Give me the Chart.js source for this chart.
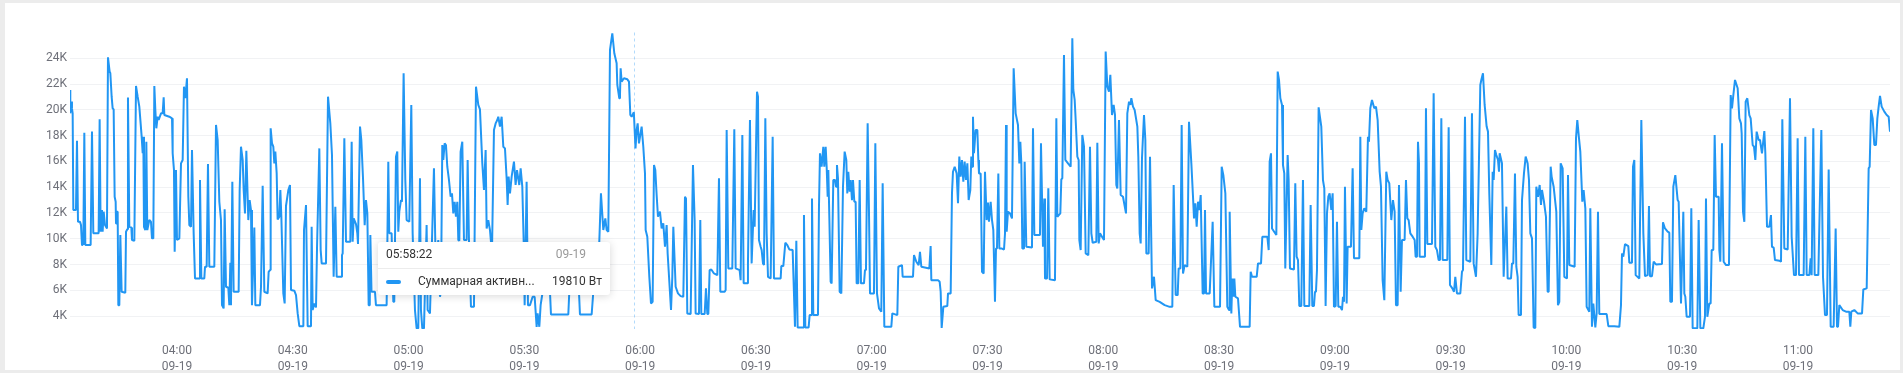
<!DOCTYPE html>
<html>
<head>
<meta charset="utf-8">
<script src="https://cdn.jsdelivr.net/npm/chart.js@4.4.1/dist/chart.umd.min.js"></script>
<style>
  html, body { margin: 0; padding: 0; background: #ececec; overflow: hidden; }
  .card { position: absolute; left: 5px; top: 3px; width: 1895px; height: 367px; background: #fff; }
  #power-chart { position: absolute; left: 0; top: 0; }
</style>
</head>
<body>
<div class="card"></div>
<canvas id="power-chart" width="1903" height="373"></canvas>
<script>
// Sample times, in minutes after 03:30 (09-19)
const times = [
  2.28, 2.36, 2.54, 2.79, 2.97, 3.14, 3.83, 4.09, 4.35, 4.87,
  5.13, 5.39, 5.56, 5.73, 5.99, 6.25, 7.63, 7.98, 8.32, 9.70,
  9.96, 10.22, 10.57, 10.74, 11.0, 11.35, 11.86, 12.12, 12.55, 12.73,
  13.07, 13.33, 13.59, 13.85, 14.11, 14.2, 14.37, 14.63, 14.8, 15.06,
  15.32, 15.66, 16.61, 16.79, 17.13, 17.3, 17.65, 18.17, 18.34, 18.95,
  19.38, 19.81, 20.24, 20.85, 21.11, 21.28, 21.45, 21.8, 22.06, 22.31,
  22.83, 23.26, 23.52, 23.87, 24.13, 24.39, 24.65, 24.99, 25.25, 25.86,
  26.29, 26.55, 26.72, 28.01, 28.71, 28.88, 29.22, 29.4, 29.74, 30.0,
  30.61, 31.04, 31.47, 31.81, 32.16, 32.59, 32.94, 33.2, 33.63, 33.89,
  34.32, 34.67, 35.79, 35.96, 36.31, 37.08, 37.26, 37.69, 38.03, 38.38,
  39.67, 40.11, 40.54, 40.97, 41.4, 41.66, 42.09, 42.35, 42.7, 43.3,
  43.56, 43.82, 43.99, 44.34, 44.68, 45.98, 46.24, 46.58, 47.02, 47.28,
  47.62, 47.97, 48.48, 48.83, 49.18, 49.43, 50.04, 50.3, 51.51, 51.77,
  52.2, 52.63, 53.49, 53.75, 54.1, 54.27, 54.62, 54.96, 55.22, 55.48,
  55.83, 56.08, 56.52, 56.78, 57.04, 57.55, 57.9, 58.24, 58.85, 59.28,
  59.54, 60.4, 60.84, 61.27, 61.7, 62.74, 62.91, 63.43, 63.86, 64.72,
  64.89, 65.15, 65.59, 66.02, 66.28, 66.88, 67.23, 67.49, 68.61, 69.13,
  69.73, 70.16, 70.59, 71.03, 71.37, 72.5, 72.75, 72.93, 73.36, 73.79,
  74.91, 75.26, 75.52, 75.78, 76.38, 76.73, 76.9, 77.42, 77.76, 78.2,
  78.63, 78.97, 79.32, 79.66, 79.95, 80.1, 80.4, 81.3, 81.55, 84.32,
  84.75, 85.0, 85.61, 86.05, 86.3, 86.74, 87.08, 87.34, 87.6, 88.03,
  88.29, 88.72, 89.16, 89.5, 90.19, 90.71, 91.06, 91.66, 92.09, 92.52,
  92.96, 93.21, 93.56, 93.99, 94.25, 94.68, 94.94, 95.55, 95.98, 96.58,
  97.01, 97.71, 98.14, 98.4, 98.74, 99.0, 99.35, 99.69, 100.04, 100.47,
  100.9, 101.25, 101.59, 101.94, 102.28, 102.63, 102.89, 103.15, 103.49, 103.92,
  104.36, 105.05, 105.31, 105.65, 106.17, 106.95, 107.47, 108.07, 108.5, 109.11,
  109.54, 109.97, 110.23, 110.66, 111.09, 111.61, 112.13, 112.56, 112.99, 113.25,
  113.68, 114.12, 114.55, 114.98, 115.41, 115.67, 115.93, 116.28, 116.71, 117.31,
  117.74, 118.09, 118.35, 118.69, 119.04, 119.47, 119.82, 120.08, 120.59, 120.94,
  121.46, 122.15, 122.67, 123.19, 123.44, 123.88, 124.22, 124.74, 126.64, 126.9,
  131.39, 131.65, 134.15, 134.41, 137.44, 137.87, 138.04, 139.42, 139.85, 140.46,
  140.98, 141.32, 141.76, 142.19, 142.79, 143.31, 143.91, 144.09, 144.6, 144.78,
  144.95, 145.21, 145.81, 146.68, 147.11, 147.46, 147.8, 148.37, 148.8, 149.1,
  149.36, 149.7, 150.39, 150.82, 151.26, 151.43, 151.86, 152.38, 152.81, 153.24,
  153.59, 153.93, 154.28, 154.62, 155.14, 155.57, 156.0, 156.44, 156.87, 157.13,
  158.0, 158.34, 158.6, 159.2, 159.81, 160.5, 161.19, 161.62, 161.88, 162.22,
  163.09, 163.69, 164.12, 164.38, 165.25, 165.59, 165.85, 166.72, 167.06, 167.41,
  167.67, 168.01, 168.44, 169.13, 170.0, 170.43, 170.78, 171.9, 172.16, 172.42,
  172.85, 173.88, 174.4, 174.75, 175.78, 176.04, 176.48, 176.82, 177.77, 177.94,
  178.46, 178.89, 179.41, 179.67, 180.28, 180.54, 180.79, 181.23, 181.49, 181.83,
  182.09, 182.44, 182.78, 183.13, 183.82, 184.34, 184.68, 186.41, 186.58, 187.1,
  187.62, 188.14, 188.65, 189.52, 190.12, 190.47, 190.81, 192.2, 192.45, 192.8,
  193.66, 193.92, 194.35, 194.53, 194.87, 196.08, 196.34, 196.6, 197.03, 197.46,
  197.72, 198.07, 198.33, 198.59, 198.76, 199.02, 199.36, 199.62, 200.05, 200.49,
  200.75, 201.0, 201.26, 201.7, 202.13, 202.56, 202.99, 203.42, 203.68, 203.94,
  204.29, 204.55, 204.89, 205.15, 205.5, 205.84, 206.1, 206.53, 206.88, 207.22,
  208.0, 208.26, 208.52, 208.95, 209.3, 209.56, 210.59, 210.94, 211.37, 211.89,
  212.49, 212.84, 213.27, 215.08, 215.34, 216.64, 216.9, 217.85, 218.02, 220.7,
  220.96, 221.56, 222.17, 222.51, 222.86, 224.93, 225.27, 225.45, 227.18, 227.61,
  227.87, 228.13, 228.56, 229.59, 229.77, 230.46, 230.8, 231.06, 231.5, 232.01,
  232.36, 232.7, 233.05, 233.39, 233.74, 234.08, 234.43, 234.78, 235.12, 235.55,
  235.81, 236.07, 236.24, 236.5, 236.93, 237.37, 237.63, 237.8, 238.23, 238.4,
  238.58, 239.01, 239.35, 239.79, 240.13, 240.39, 240.82, 241.17, 241.51, 241.94,
  242.2, 242.46, 242.81, 243.07, 243.59, 244.28, 244.54, 244.8, 244.97, 245.31,
  245.83, 246.35, 246.78, 247.3, 247.9, 248.25, 248.51, 248.77, 249.03, 249.46,
  249.63, 250.06, 251.53, 251.79, 252.14, 253.6, 253.86, 254.38, 254.73, 254.9,
  255.42, 255.76, 256.11, 257.49, 257.84, 258.1, 258.87, 259.13, 259.39, 259.82,
  260.17, 260.86, 261.55, 261.98, 262.24, 262.59, 262.85, 263.28, 263.62, 263.8,
  264.14, 264.57, 265.01, 265.44, 266.13, 266.56, 266.91, 267.25, 268.2, 268.46,
  268.81, 269.15, 269.67, 270.19, 270.62, 271.05, 271.48, 271.83, 272.26, 272.69,
  273.04, 273.38, 273.64, 274.07, 274.51, 275.11, 275.89, 276.23, 276.67, 277.01,
  277.27, 277.7, 278.13, 278.83, 279.08, 279.43, 279.69, 280.03, 280.55, 280.9,
  281.16, 281.76, 282.11, 282.63, 283.14, 283.58, 284.61, 285.91, 287.2, 287.89,
  288.24, 288.76, 289.28, 289.53, 289.97, 290.31, 290.66, 291.09, 291.78, 292.21,
  292.82, 293.25, 293.51, 293.85, 294.2, 294.55, 294.89, 295.24, 295.75, 296.1,
  296.36, 296.62, 297.57, 298.34, 298.78, 300.25, 300.68, 301.11, 301.63, 302.14,
  302.58, 302.75, 303.18, 303.44, 303.7, 303.96, 304.22, 304.91, 305.43, 307.93,
  308.19, 308.54, 309.75, 310.09, 310.87, 311.21, 312.51, 312.86, 313.11, 313.46,
  313.72, 314.84, 315.19, 315.53, 315.88, 316.31, 316.56, 316.9, 317.16, 317.77,
  318.03, 318.37, 319.41, 319.75, 320.1, 320.45, 320.79, 321.31, 321.74, 322.09,
  323.38, 323.73, 324.16, 324.59, 324.85, 325.11, 325.37, 325.8, 326.49, 326.92,
  327.27, 327.61, 327.96, 328.31, 328.65, 329.08, 329.43, 329.77, 330.21, 330.55,
  330.9, 331.41, 331.85, 332.11, 332.37, 332.62, 333.06, 333.31, 334.18, 334.61,
  334.96, 336.34, 336.6, 336.86, 337.2, 337.63, 338.15, 338.58, 338.84, 339.19,
  339.62, 340.22, 340.66, 341.09, 341.61, 341.95, 342.38, 342.82, 343.33, 343.68,
  344.11, 344.63, 345.06, 345.49, 345.84, 346.27, 346.62, 347.05, 347.39, 348.08,
  348.43, 348.78, 349.12, 349.55, 350.16, 350.68, 350.93, 351.28, 351.54, 351.8,
  351.97, 353.35, 353.61, 353.96, 355.17, 355.6, 356.03, 356.46, 356.89, 357.24,
  357.59, 357.93, 359.14, 359.49, 359.83, 360.44, 360.87, 361.21, 361.64, 362.51,
  362.94, 363.2, 363.72, 364.06, 365.1, 365.53, 365.96, 366.57, 367.0, 367.69,
  367.95, 368.38, 368.81, 369.33, 369.68, 370.02, 370.54, 370.89, 371.15, 371.49,
  371.84, 372.27, 372.53, 372.7, 373.3, 373.74, 374.43, 374.77, 375.64, 375.9,
  376.24, 376.67, 377.02, 377.36, 377.62, 378.23, 378.49, 379.0, 379.44, 379.95,
  380.3, 380.65, 381.08, 381.51, 381.94, 382.2, 382.63, 383.07, 383.41, 383.67,
  384.19, 384.7, 385.14, 385.4, 385.92, 386.17, 386.69, 387.38, 387.81, 388.16,
  388.51, 389.02, 389.46, 390.15, 390.41, 390.75, 392.13, 392.48, 392.82, 393.26,
  393.6, 394.12, 394.46, 394.9, 395.24, 395.93, 396.19, 396.62, 396.97, 397.49,
  397.83, 398.18, 398.52, 400.43, 400.86, 402.41, 403.71, 404.14, 404.4, 404.74,
  405.18, 406.04, 406.3, 406.99, 407.25, 407.59, 407.94, 408.89, 409.41, 409.93,
  410.36, 411.05, 411.39, 411.65, 412.17, 412.6, 413.21, 414.76, 415.02, 415.54,
  416.23, 416.66, 416.92, 417.35, 417.7, 418.22, 418.82, 419.08, 419.69, 420.29,
  420.55, 420.81, 421.15, 422.02, 422.36, 422.71, 423.92, 424.26, 424.7, 425.47,
  425.9, 426.16, 426.51, 427.03, 427.37, 427.63, 428.06, 428.41, 428.75, 429.45,
  429.62, 429.88, 430.31, 430.74, 431.35, 432.12, 432.56, 432.9, 433.25, 433.68,
  434.37, 434.8, 435.23, 435.41, 435.75, 436.1, 436.44, 436.87, 437.39, 437.74,
  438.26, 438.6, 438.95, 439.29, 439.81, 440.16, 440.67, 441.28, 441.54, 441.97,
  442.57, 443.0, 443.26, 443.7, 444.04, 445.17, 445.6, 445.94, 446.46, 447.33,
  447.93, 448.36, 448.96, 449.48, 449.91, 450.26, 451.47, 451.9, 452.25, 452.94,
  453.28, 453.54, 453.97, 454.32, 455.27, 456.05, 456.48, 457.0, 457.51, 457.95,
  458.47, 459.24, 459.76, 460.11, 460.37, 460.71, 461.58, 462.44, 463.3, 463.56,
  463.82, 464.6, 465.46, 466.59, 466.93, 467.8, 468.31, 468.57, 468.92, 469.35,
  469.78, 470.21, 470.56, 470.9, 471.25, 471.68, 472.37, 472.98, 473.49, 473.84
];

// Total active power, W
const watts = [
  21540, 19730, 20640, 20120, 19730, 12230, 12230, 17610, 11320, 11320,
  11060, 9510, 10160, 9510, 18230, 9510, 9510, 18310, 10420, 10420,
  19270, 10550, 12230, 10550, 12100, 11060, 10800, 24080, 22970, 22840,
  21020, 20120, 20040, 13260, 12870, 11190, 12100, 12100, 4850, 4850,
  10290, 5890, 5810, 10550, 10730, 20950, 10930, 10880, 9900, 9850,
  21850, 21020, 20250, 17920, 16630, 17920, 10930, 10680, 17530, 10680,
  11450, 11320, 10030, 10030, 21850, 19990, 18570, 19470, 19210, 19730,
  19730, 20970, 19600, 19470, 19340, 16630, 15330, 8990, 15330, 9900,
  10030, 15850, 16110, 21800, 20900, 22450, 13260, 11060, 10930, 16880,
  10420, 6920, 6920, 14560, 6920, 6920, 7830, 7830, 15800, 7830,
  7830, 18830, 17660, 12870, 11450, 4850, 4600, 12280, 6280, 6200,
  4850, 8140, 4850, 14430, 5890, 5890, 13780, 17140, 16110, 13780,
  11970, 16830, 11450, 13000, 12230, 4850, 10880, 4850, 4850, 6280,
  14120, 5890, 5760, 7440, 7570, 18570, 17400, 17140, 15850, 16760,
  15070, 11500, 11710, 13780, 11710, 5760, 4980, 12540, 13780, 14170,
  6020, 5970, 5630, 4210, 3220, 3220, 10680, 12620, 3220, 3220,
  10930, 4470, 4980, 4670, 9250, 17010, 9120, 8090, 8090, 21020,
  18950, 16500, 7050, 12490, 7050, 7050, 8730, 8860, 17790, 9770,
  9770, 17530, 9770, 11580, 11140, 10420, 9590, 18700, 17660, 14690,
  11060, 13000, 11970, 4850, 4850, 10290, 5890, 5890, 4850, 4850,
  15980, 10420, 10420, 5110, 5110, 16370, 16760, 10550, 12100, 13000,
  12870, 22840, 14560, 11450, 11320, 20380, 10420, 4470, 3050, 3050,
  14690, 4470, 3050, 3050, 6020, 11060, 4470, 4210, 8860, 15460,
  8350, 9900, 5500, 5890, 17270, 16110, 17400, 17270, 15590, 14560,
  13260, 13520, 11970, 12870, 11710, 12870, 9900, 9850, 16760, 17530,
  9900, 9900, 16110, 9900, 4720, 4720, 21800, 20380, 20040, 15850,
  13780, 16880, 10800, 11450, 10680, 8860, 18440, 18950, 19210, 19470,
  18700, 19470, 17140, 17010, 14690, 12620, 14820, 13520, 14820, 15980,
  14170, 15330, 14820, 14170, 15460, 14040, 9900, 4850, 14430, 4850,
  4850, 5500, 5500, 3170, 4210, 3170, 4850, 5890, 5890, 4130,
  4130, 5890, 5890, 4130, 4130, 5890, 7310, 9770, 13520, 10680,
  11580, 10680, 10550, 24650, 25940, 24390, 23610, 21930, 20900, 21150,
  23220, 22190, 22450, 22370, 22190, 19600, 19470, 19810, 17010, 18440,
  18950, 17400, 18700, 17140, 15070, 10680, 10160, 7050, 4980, 5110,
  15720, 15330, 13390, 11710, 12100, 10800, 11190, 9380, 11060, 8860,
  4470, 7050, 10930, 6280, 5760, 5550, 5500, 13260, 13130, 4210,
  4160, 15720, 11450, 4210, 4160, 11450, 4160, 4160, 6150, 4160,
  4160, 7570, 7620, 7310, 7180, 14690, 5890, 5890, 6020, 18440,
  7700, 7700, 18490, 7700, 7570, 6790, 18050, 6540, 6540, 8090,
  19210, 8090, 12230, 10930, 21410, 21020, 9900, 9380, 9120, 8090,
  7960, 19340, 10420, 7050, 6920, 17920, 6920, 6920, 7880, 7880,
  9690, 9510, 9170, 9120, 3170, 9850, 3120, 3120, 11840, 3120,
  3120, 4080, 4080, 13130, 4080, 4080, 12490, 16630, 15590, 17140,
  15590, 17140, 15590, 13260, 15330, 11710, 6660, 6540, 14560, 14560,
  14040, 15720, 14690, 5890, 5760, 14040, 16760, 16110, 13520, 15200,
  13650, 14560, 13000, 14560, 12870, 12870, 6540, 6540, 14560, 6540,
  6540, 7570, 7570, 18950, 11970, 5760, 5760, 17400, 5760, 4600,
  4340, 14300, 3170, 3170, 4210, 4080, 7830, 7960, 7050, 7050,
  8730, 8220, 7960, 8990, 7830, 7700, 9430, 6790, 6790, 6660,
  5890, 3080, 4720, 4780, 5760, 5760, 13520, 15200, 15590, 15070,
  12750, 16370, 14820, 16110, 14430, 15980, 14560, 15850, 13000, 13780,
  16370, 15590, 19470, 16630, 18440, 18440, 16110, 15070, 15070, 11450,
  7440, 7310, 15200, 11450, 12800, 11320, 12870, 11450, 10680, 5110,
  9250, 9250, 15070, 9250, 9250, 9170, 10420, 18830, 10550, 12100,
  11970, 11580, 23220, 19730, 18830, 15850, 17530, 15850, 9250, 9250,
  15980, 9380, 9330, 18570, 10290, 10290, 17400, 9380, 13130, 6920,
  6920, 13910, 6850, 6790, 19340, 11710, 11970, 14610, 14690, 24260,
  16110, 15850, 15590, 25550, 21540, 20770, 19210, 16370, 16110, 9900,
  9120, 18050, 17140, 8860, 8730, 17140, 10420, 9690, 9770, 17450,
  9640, 10420, 10160, 9900, 24520, 21800, 21410, 22710, 19600, 20380,
  19600, 14170, 13910, 19210, 13390, 13260, 11970, 19730, 20640, 20380,
  20900, 20250, 19990, 18700, 16370, 10420, 9640, 16240, 19600, 17660,
  8860, 8860, 16370, 6150, 7050, 5240, 5110, 4850, 4720, 4720,
  14170, 5630, 5630, 7700, 7700, 18830, 7310, 7960, 7830, 19080,
  15850, 13260, 11580, 12750, 10930, 12870, 12230, 13390, 5760, 5760,
  12230, 5760, 5760, 11320, 4720, 4720, 15590, 14940, 13520, 4720,
  4470, 12100, 4210, 6920, 5500, 6920, 5500, 5370, 3170, 3170,
  7440, 7050, 7050, 8090, 8090, 10160, 10160, 9120, 15980, 16630,
  10800, 10290, 22970, 22320, 20900, 20380, 15720, 15070, 7700, 16500,
  14560, 7700, 7620, 14300, 8610, 8350, 4780, 4780, 14560, 4780,
  4780, 12620, 4780, 4780, 5890, 5890, 7570, 20200, 18700, 14560,
  13910, 4780, 11970, 13260, 13520, 12230, 13520, 4720, 4780, 11320,
  4720, 4720, 4470, 5500, 5110, 14040, 4980, 9380, 9380, 15460,
  8480, 8480, 17920, 10680, 11970, 12360, 12100, 17920, 17530, 20120,
  20770, 20120, 20250, 19210, 15200, 14040, 6790, 5240, 15200, 14560,
  14300, 11450, 13000, 12100, 4850, 4850, 14170, 5890, 9900, 9900,
  14560, 11580, 11450, 10420, 10160, 9900, 8610, 8610, 17530, 15850,
  8610, 8610, 20120, 9590, 9590, 21280, 9380, 9120, 8350, 8350,
  19340, 8350, 8350, 18640, 6410, 6150, 5890, 7050, 5760, 5760,
  7440, 7570, 19470, 8350, 8220, 19730, 8090, 7050, 10420, 21930,
  22320, 22840, 20380, 18700, 18310, 13520, 7960, 15200, 14560, 16880,
  16500, 16110, 15200, 16630, 15850, 7050, 12490, 6920, 6920, 8090,
  8090, 15070, 7830, 7050, 4080, 4080, 13000, 15070, 16370, 15850,
  14560, 10420, 10030, 3120, 3080, 14040, 13260, 14170, 12620, 13780,
  12870, 11710, 5890, 5890, 15590, 14820, 14040, 12100, 4850, 5110,
  15850, 15460, 7050, 6920, 14940, 7960, 7830, 17790, 19210, 17790,
  16760, 12870, 13780, 12360, 4720, 4340, 12360, 3170, 4980, 3120,
  4210, 12100, 4160, 4160, 3220, 3220, 3170, 4850, 8860, 8610,
  9590, 9430, 8140, 8140, 15590, 16110, 7180, 6920, 19210, 10420,
  7100, 7180, 12540, 7100, 7100, 8220, 8010, 8040, 11270, 10800,
  10550, 10470, 5110, 5110, 14040, 14940, 13000, 12870, 4980, 12100,
  5760, 5500, 3950, 3950, 12360, 3050, 3050, 11450, 3050, 3050,
  3950, 13130, 3950, 4980, 4980, 9120, 9120, 18050, 13260, 13260,
  9120, 8220, 17400, 8220, 7960, 7960, 21150, 20120, 21150, 22320,
  21670, 19340, 18950, 18180, 12100, 11320, 20640, 20900, 19600, 19340,
  17270, 17140, 16110, 18310, 17660, 17660, 16630, 18360, 16630, 10930,
  10930, 11840, 9380, 9310, 8350, 8300, 8220, 19270, 9250, 9170,
  20900, 10160, 7180, 7180, 17790, 7180, 7180, 17920, 7180, 7180,
  8480, 7180, 18570, 7180, 7180, 18440, 7050, 4080, 4080, 15380,
  3170, 3170, 10800, 3170, 3170, 4850, 4470, 4340, 4340, 3170,
  4340, 4470, 4210, 4210, 6070, 6150, 15460, 15590, 19990, 19340,
  17270, 17270, 19340, 20250, 21080, 20250, 19860, 19600, 19470, 18310
];

const seriesName = 'Суммарная активная мощность';
const unit = 'Вт';
const dayLabel = '09-19';
const startMinuteOfDay = 3 * 60 + 30;
const xTickMinutes = [30, 60, 90, 120, 150, 180, 210, 240, 270, 300, 330, 360, 390, 420, 450];
const xTickLabels = ['04:00', '04:30', '05:00', '05:30', '06:00', '06:30', '07:00', '07:30',
  '08:00', '08:30', '09:00', '09:30', '10:00', '10:30', '11:00'];
const yTickValues = [4000, 6000, 8000, 10000, 12000, 14000, 16000, 18000, 20000, 22000, 24000];
const hoverTime = 148.37; // the point under the cursor

if (times.length !== watts.length) console.warn('length mismatch', times.length, watts.length);

const pad = n => String(n).padStart(2, '0');
const clock = (m) => {
  const total = Math.round((startMinuteOfDay + m) * 60);
  return pad(Math.floor(total / 3600)) + ':' + pad(Math.floor(total % 3600 / 60)) + ':' + pad(total % 60);
};

const labelColor = '#6E7079';
const font = "Roboto, 'Noto Sans', sans-serif";

// tooltip + dashed pointer for the hovered sample
const hoverCard = {
  id: 'hoverCard',
  afterDatasetsDraw(chart) {
    const { ctx, chartArea, scales: { x } } = chart;
    const idx = times.indexOf(hoverTime);
    const px = Math.round(x.getPixelForValue(times[idx]));
    ctx.save();
    ctx.strokeStyle = 'rgba(33,150,243,0.35)';
    ctx.lineWidth = 1;
    ctx.setLineDash([3, 3]);
    ctx.beginPath();
    ctx.moveTo(px + 0.5, chartArea.top);
    ctx.lineTo(px + 0.5, chartArea.bottom);
    ctx.stroke();
    ctx.setLineDash([]);

    const w = 232, h = 53;
    const bx = px - 24 - w, by = Math.round(chartArea.bottom) - 87;
    ctx.shadowColor = 'rgba(0,0,0,0.16)';
    ctx.shadowBlur = 8;
    ctx.shadowOffsetY = 1;
    ctx.fillStyle = '#fff';
    ctx.beginPath();
    ctx.roundRect(bx, by, w, h, 3);
    ctx.fill();
    ctx.shadowColor = 'transparent';

    ctx.strokeStyle = '#ececec';
    ctx.beginPath();
    ctx.moveTo(bx, by + 26.5);
    ctx.lineTo(bx + w, by + 26.5);
    ctx.stroke();

    ctx.font = '12px ' + font;
    ctx.textBaseline = 'middle';
    ctx.fillStyle = '#333';
    ctx.textAlign = 'left';
    ctx.fillText(clock(times[idx]), bx + 8, by + 13);
    ctx.fillStyle = '#999';
    ctx.textAlign = 'right';
    ctx.fillText(dayLabel, bx + 208, by + 13);

    ctx.strokeStyle = '#2196F3';
    ctx.lineWidth = 4;
    ctx.lineCap = 'round';
    ctx.beginPath();
    ctx.moveTo(bx + 10, by + 40);
    ctx.lineTo(bx + 21, by + 40);
    ctx.stroke();

    let name = seriesName;
    const maxW = 122;
    if (ctx.measureText(name).width > maxW) {
      while (name.length && ctx.measureText(name + '...').width > maxW) name = name.slice(0, -1);
      name += '...';
    }
    ctx.fillStyle = '#333';
    ctx.textAlign = 'left';
    ctx.fillText(name, bx + 40, by + 40);
    ctx.textAlign = 'right';
    ctx.fillText(watts[idx] + ' ' + unit, bx + 224, by + 40);
    ctx.restore();
  }
};

new Chart(document.getElementById('power-chart'), {
  type: 'line',
  data: {
    datasets: [{
      label: seriesName,
      data: times.map((t, i) => ({ x: t, y: watts[i] })),
      borderColor: '#2196F3',
      borderWidth: 2,
      borderJoinStyle: 'bevel',
      pointRadius: 0,
      tension: 0,
      fill: false
    }]
  },
  options: {
    responsive: false,
    animation: false,
    parsing: false,
    layout: { padding: { top: 32.5, right: 13, left: 0, bottom: 0 } },
    plugins: { legend: { display: false }, tooltip: { enabled: false } },
    scales: {
      x: {
        type: 'linear',
        min: times[0],
        max: times[times.length - 1],
        grid: { display: false },
        border: { display: false },
        afterFit: (scale) => { scale.height = 44; },
        afterBuildTicks: (scale) => { scale.ticks = xTickMinutes.map(v => ({ value: v })); },
        ticks: {
          autoSkip: false,
          maxRotation: 0,
          padding: 6,
          color: labelColor,
          font: { family: font, size: 12, lineHeight: 1.34 },
          callback: (value) => {
            const i = xTickMinutes.indexOf(value);
            return i >= 0 ? [xTickLabels[i], dayLabel] : '';
          }
        }
      },
      y: {
        min: 3000,
        max: 26000,
        grid: { color: '#f1f2f4', drawTicks: false },
        border: { display: false },
        afterFit: (scale) => { scale.width = 70; },
        afterBuildTicks: (scale) => { scale.ticks = yTickValues.map(v => ({ value: v })); },
        ticks: {
          padding: 3,
          color: labelColor,
          font: { family: font, size: 12 },
          callback: (value) => (value / 1000) + 'K'
        }
      }
    }
  },
  plugins: [hoverCard]
});
</script>
</body>
</html>
